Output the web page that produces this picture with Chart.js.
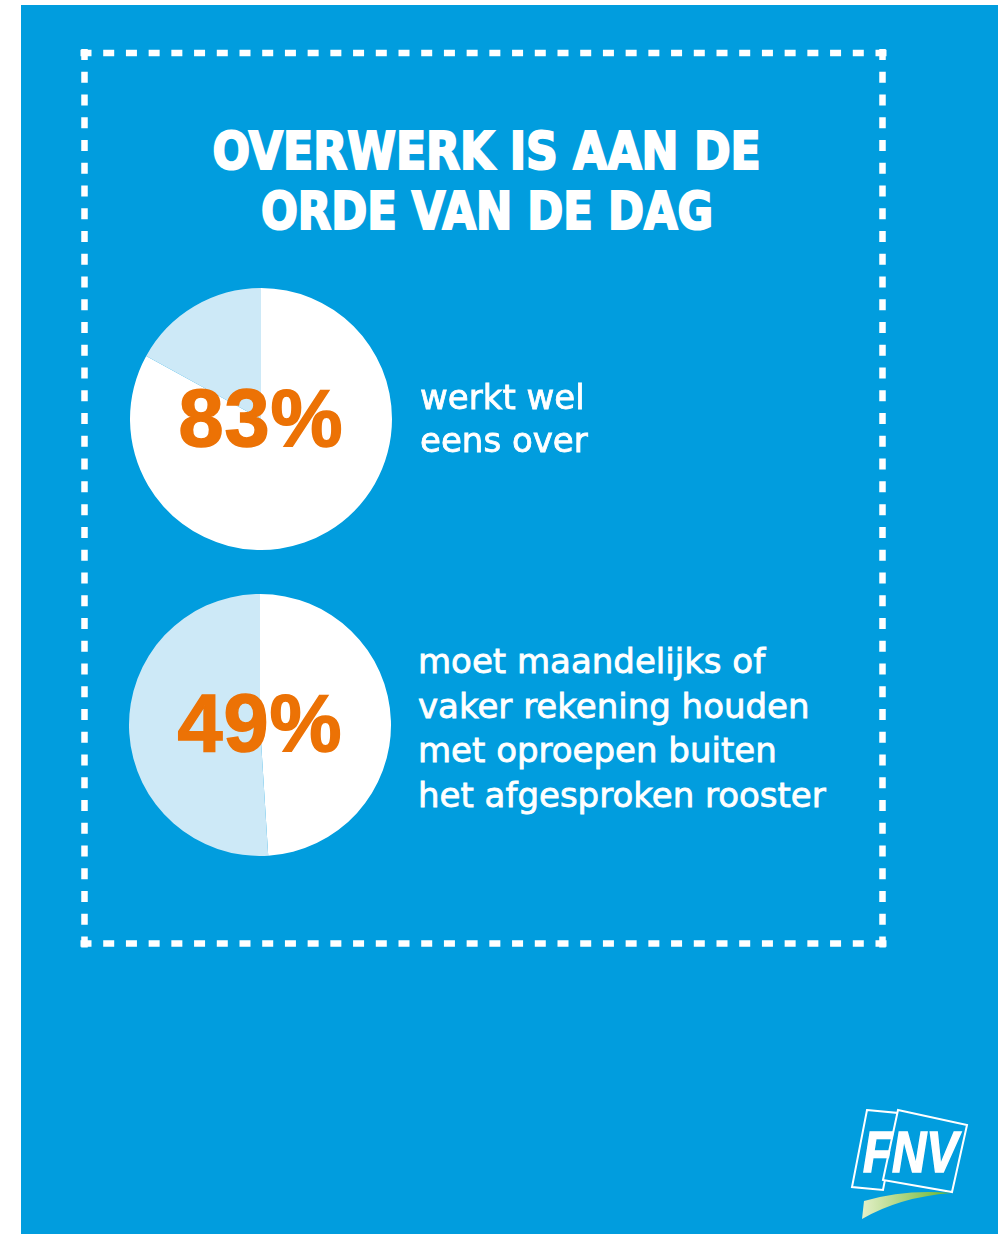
<!DOCTYPE html>
<html>
<head>
<meta charset="utf-8">
<script src="https://cdn.jsdelivr.net/npm/chart.js"></script>
<style>
  html, body { margin: 0; padding: 0; }
  body { width: 1005px; height: 1234px; background: #fff; position: relative; overflow: hidden; }
  .panel { position: absolute; left: 21px; top: 5px; width: 977px; height: 1229px; background: #019dde; }
  .abs { position: absolute; }
  .title { left: 87px; width: 800px; text-align: center; font-family: "DejaVu Sans", sans-serif;
           font-weight: bold; font-size: 51px; line-height: 60px; color: #fff; white-space: nowrap;
           -webkit-text-stroke: 2.2px #fff; }
  .title span { display: inline-block; transform-origin: 50% 50%; }
  .pct { width: 262px; text-align: center; font-family: "Liberation Sans", Arial, sans-serif;
         font-weight: bold; font-size: 81px; line-height: 81px; color: #ec7205; white-space: nowrap;
         letter-spacing: 1px; -webkit-text-stroke: 1.5px #ec7205; }
  .desc { font-family: "DejaVu Sans", sans-serif; font-size: 34px; color: #fff; white-space: nowrap;
          -webkit-text-stroke: 0.8px #fff; }
  canvas { position: absolute; }
</style>
</head>
<body>
<div class="panel"></div>
<svg id="deco" class="abs" style="left:0;top:0" width="1005" height="1234"></svg>
<div id="title1" class="abs title" style="top:122px"><span>OVERWERK IS AAN DE</span></div>
<div id="title2" class="abs title" style="top:182px"><span>ORDE VAN DE DAG</span></div>

<canvas id="pie1" width="262" height="262" style="left:130px;top:288px"></canvas>
<canvas id="pie2" width="262" height="262" style="left:129px;top:594px"></canvas>
<div id="pct1" class="abs pct" style="left:130px"></div>
<div id="pct2" class="abs pct" style="left:129px"></div>
<div id="desc1" class="abs desc" style="left:420px;top:376px;line-height:43px"></div>
<div id="desc2" class="abs desc" style="left:418px;top:639px;line-height:44.7px"></div>

<script>
  // data
  var shareYes = [83, 49];
  var shareRest = [17, 51];
  var descLines = [
    ["werkt wel", "eens over"],
    ["moet maandelijks of", "vaker rekening houden", "met oproepen buiten", "het afgesproken rooster"]
  ];
  var sliceLabels = ["ja", "nee"];

  var blue = "#019dde";
  var lightBlue = "#cde9f7";

  // title: squeeze to the width of the original
  function fit(id, w) {
    var s = document.querySelector("#" + id + " span");
    s.style.transform = "scaleX(" + (w / s.offsetWidth) + ")";
  }
  fit("title1", 548);
  fit("title2", 452);

  // percentage + description texts
  var pctTops = [445 - 67, 750 - 67];
  for (var i = 0; i < 2; i++) {
    var p = document.getElementById("pct" + (i + 1));
    p.textContent = shareYes[i] + "%";
    p.style.top = pctTops[i] + "px";
    document.getElementById("desc" + (i + 1)).innerHTML = descLines[i].join("<br>");
  }

  // pies
  ["pie1", "pie2"].forEach(function (id, i) {
    new Chart(document.getElementById(id), {
      type: "pie",
      data: {
        labels: sliceLabels,
        datasets: [{
          data: [shareYes[i], shareRest[i]],
          backgroundColor: ["#ffffff", lightBlue],
          borderWidth: 0
        }]
      },
      options: {
        responsive: false,
        animation: false,
        devicePixelRatio: 1,
        layout: { padding: 0 },
        plugins: { legend: { display: false }, tooltip: { enabled: false } }
      }
    });
  });

  // dashed frame + logo
  var svg = document.getElementById("deco");
  var ns = "http://www.w3.org/2000/svg";
  function el(tag, attrs) {
    var e = document.createElementNS(ns, tag);
    for (var k in attrs) e.setAttribute(k, attrs[k]);
    svg.appendChild(e);
    return e;
  }
  function dashed(x1, y1, x2, y2) {
    var len = Math.hypot(x2 - x1, y2 - y1);
    var dash = 11, n = Math.round((len + 11.5) / 22.5);
    var gap = (len - n * dash) / (n - 1);
    el("line", { x1: x1, y1: y1, x2: x2, y2: y2, stroke: "#fff", "stroke-width": 6.5,
                 "stroke-dasharray": dash + " " + gap });
  }
  var L = 84.5, R = 882.5, T = 53, B = 943.5, h = 4;
  dashed(L - h, T, R + h, T);
  dashed(L - h, B, R + h, B);
  dashed(L, T - h, L, B + h);
  dashed(R, T - h, R, B + h);

  var defs = el("defs", {});
  var g = document.createElementNS(ns, "linearGradient");
  g.setAttribute("id", "grn");
  g.innerHTML = '<stop offset="0" stop-color="#e4f0c8"/><stop offset="1" stop-color="#6ab42c"/>';
  defs.appendChild(g);
  el("polygon", { points: "867,1110 898,1113 883,1190 852,1187", fill: "none", stroke: "#fff", "stroke-width": 2 });
  el("polygon", { points: "898,1110 967,1125 952,1192 883,1180", fill: blue, stroke: "#fff", "stroke-width": 2 });
  el("path", { d: "M862 1219 L864 1201 Q905 1189 951 1193 Q900 1197 862 1219 Z", fill: "url(#grn)" });
  var t = el("text", { x: 863, y: 1172, fill: "#fff", stroke: "#fff", "stroke-width": 1.5,
                       "font-family": "Liberation Sans, Arial, sans-serif",
                       "font-weight": "bold", "font-style": "italic", "font-size": 58,
                       textLength: 95, lengthAdjust: "spacingAndGlyphs" });
  t.textContent = "FNV";
</script>
</body>
</html>
